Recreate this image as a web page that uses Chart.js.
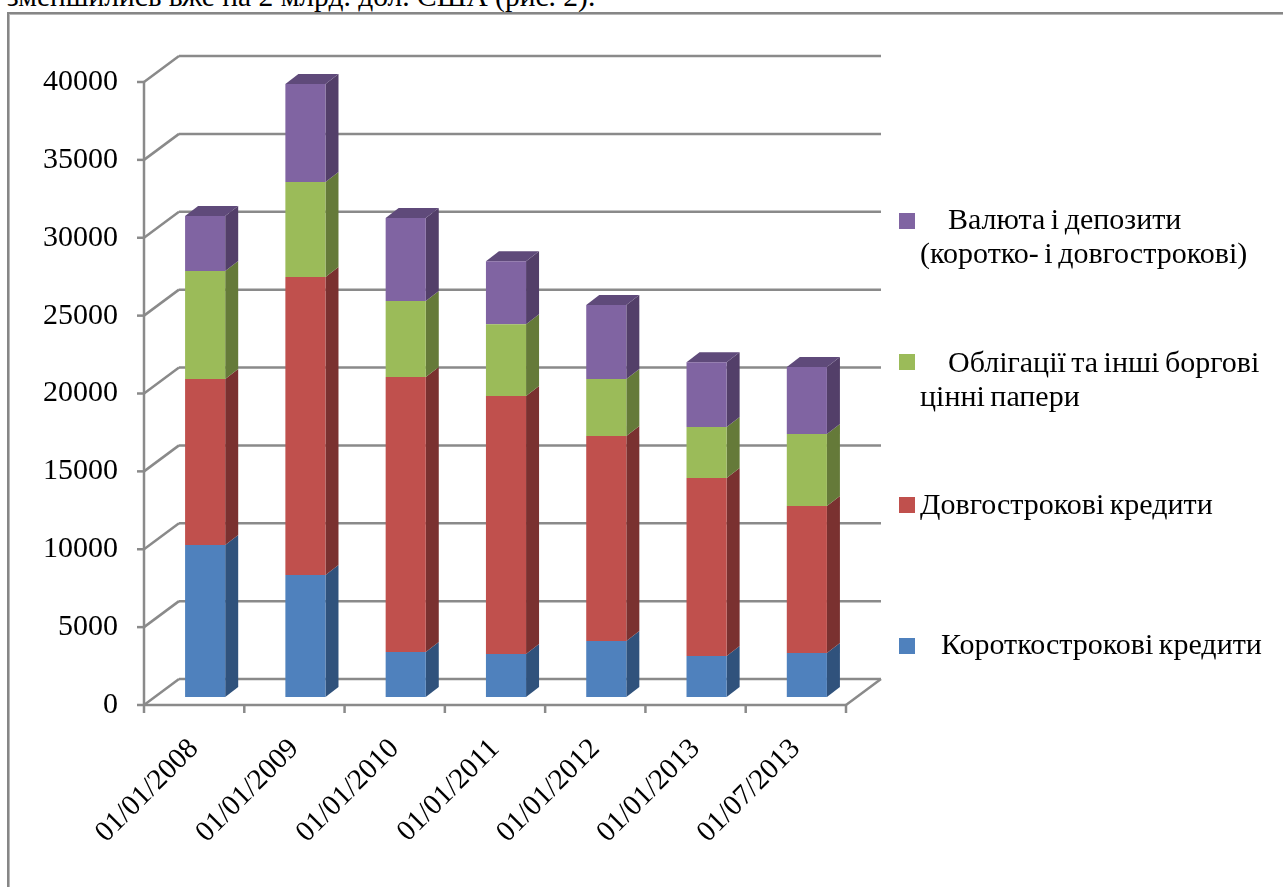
<!DOCTYPE html>
<html lang="uk">
<head>
<meta charset="utf-8">
<title>Зовнішній борг</title>
<script src="https://cdn.jsdelivr.net/npm/chart.js@4/dist/chart.umd.min.js"></script>
<style>
    html, body { margin: 0; padding: 0; background: #fff; overflow: hidden; }
    #caption {
        position: absolute; left: 7px; top: -19px;
        font: 29.5px/30px "Liberation Serif", serif; color: #000; white-space: nowrap;
    }
    #frame {
        position: absolute; left: 7px; top: 12px; width: 1400px; height: 1000px;
        border: 2px solid #868686;
        box-shadow: inset 1px 1px 0 #b8b8b8;
    }
    #debtChart { position: absolute; left: 0; top: 0; }
</style>
</head>
<body>
<div id="caption">зменшились вже на 2 млрд. дол. США (рис. 2).</div>
<div id="frame"></div>
<canvas id="debtChart" width="1283" height="887"></canvas>
<script>
const categories = ['01/01/2008', '01/01/2009', '01/01/2010', '01/01/2011', '01/01/2012', '01/01/2013', '01/07/2013'];

const shortLoans = [9760, 7830, 2890, 2760, 3600, 2630, 2820];
const longLoans = [10660, 19130, 17660, 16560, 13160, 11430, 9440];
const bonds = [6930, 6100, 4880, 4620, 3660, 3270, 4620];
const deposits = [3530, 6290, 5330, 4040, 4750, 4170, 4300];

const shortLabel = ['Короткострокові кредити'];
const longLabel = ['Довгострокові кредити'];
const bondsLabel = ['Облігації та інші боргові', 'цінні папери'];
const depositsLabel = ['Валюта і депозити', '(коротко- і довгострокові)'];

const fontFamily = '"Liberation Serif", serif';
const gridColor = '#8a8a8a';

// depth of the box: the walls sit around the bars, front plane lower-left, back plane upper-right
const front = { dx: -11, dy: 8 };
const back = { dx: 24, dy: -18 };
const barDepth = { dx: 13, dy: -10 };

function poly(ctx, pts, fill) {
    ctx.fillStyle = fill;
    ctx.beginPath();
    pts.forEach((p, i) => i ? ctx.lineTo(p[0], p[1]) : ctx.moveTo(p[0], p[1]));
    ctx.closePath();
    ctx.fill();
}

function line(ctx, x1, y1, x2, y2) {
    ctx.beginPath();
    ctx.moveTo(x1, y1);
    ctx.lineTo(x2, y2);
    ctx.stroke();
}

const box3d = {
    id: 'box3d',
    beforeDatasetsDraw(chart) {
        const { ctx, chartArea, scales } = chart;
        const { x: xs, y: ys } = scales;
        const fl = chartArea.left + front.dx, fr = chartArea.right + front.dx;
        const bl = chartArea.left + back.dx, br = chartArea.right + back.dx;
        ctx.save();
        ctx.strokeStyle = gridColor;
        ctx.lineWidth = 2.5;

        // walls and y ticks
        ys.ticks.forEach(t => {
            const y = ys.getPixelForValue(t.value);
            line(ctx, fl - 7, y + front.dy, fl, y + front.dy);
            line(ctx, fl, y + front.dy, bl, y + back.dy);
            line(ctx, bl, y + back.dy, br, y + back.dy);
        });
        const y0 = ys.getPixelForValue(0), yTop = ys.getPixelForValue(40000);
        line(ctx, fl, yTop + front.dy, fl, y0 + front.dy);
        line(ctx, fl, y0 + front.dy, fr, y0 + front.dy);
        line(ctx, fr, y0 + front.dy, br, y0 + back.dy);

        // x ticks sit between the categories
        const step = xs.getPixelForValue(1) - xs.getPixelForValue(0);
        for (let i = 0; i <= categories.length; i++) {
            const x = fl + i * step;
            line(ctx, x, y0 + front.dy, x, y0 + front.dy + 8);
        }
        ctx.restore();

        // side and top faces of the stacked bars
        ctx.save();
        chart.data.datasets.forEach((ds, di) => {
            const bars = chart.getDatasetMeta(di).data;
            bars.forEach(bar => {
                const r = bar.x + bar.width / 2, l = bar.x - bar.width / 2;
                poly(ctx, [
                    [r, bar.base],
                    [r + barDepth.dx, bar.base + barDepth.dy],
                    [r + barDepth.dx, bar.y + barDepth.dy],
                    [r, bar.y]
                ], ds.sideColor);
                if (di === chart.data.datasets.length - 1) {
                    poly(ctx, [
                        [l, bar.y],
                        [l + barDepth.dx, bar.y + barDepth.dy],
                        [r + barDepth.dx, bar.y + barDepth.dy],
                        [r, bar.y]
                    ], ds.topColor);
                }
            });
        });
        ctx.restore();
    }
};

// the legend runs down the right side, first lines indented after the swatch
const legendRows = [
    { ds: 3, swatchY: 213, lines: [[948, 229], [920, 263]] },
    { ds: 2, swatchY: 354, lines: [[948, 372], [920, 406]] },
    { ds: 1, swatchY: 497, lines: [[920, 514]] },
    { ds: 0, swatchY: 638, lines: [[941, 654]] }
];

const sideLegend = {
    id: 'sideLegend',
    afterDraw(chart) {
        const { ctx } = chart;
        ctx.save();
        ctx.font = '30px ' + fontFamily;
        ctx.wordSpacing = '-2px';
        ctx.textBaseline = 'alphabetic';
        legendRows.forEach(row => {
            const ds = chart.data.datasets[row.ds];
            ctx.fillStyle = ds.backgroundColor;
            ctx.fillRect(899, row.swatchY, 16, 16);
            ctx.fillStyle = '#000';
            row.lines.forEach((pos, i) => ctx.fillText(ds.label[i], pos[0], pos[1]));
        });
        ctx.restore();
    }
};

new Chart(document.getElementById('debtChart'), {
    type: 'bar',
    data: {
        labels: categories,
        datasets: [
            { label: shortLabel, data: shortLoans, backgroundColor: '#4f81bd', sideColor: '#30527c' },
            { label: longLabel, data: longLoans, backgroundColor: '#c0504d', sideColor: '#7a3130' },
            { label: bondsLabel, data: bonds, backgroundColor: '#9bbb59', sideColor: '#657a39' },
            { label: depositsLabel, data: deposits, backgroundColor: '#8064a2', sideColor: '#533f69', topColor: '#5f4a7a' }
        ]
    },
    options: {
        responsive: false,
        animation: false,
        layout: { padding: { top: 74, right: 426, left: 0, bottom: 0 } },
        plugins: { legend: { display: false }, tooltip: { enabled: false } },
        datasets: { bar: { categoryPercentage: 1, barPercentage: 0.4 } },
        scales: {
            x: {
                stacked: true,
                grid: { display: false, drawTicks: false },
                border: { display: false },
                afterFit: s => { s.height = 190; },
                ticks: {
                    color: '#000',
                    font: { family: fontFamily, size: 29 },
                    maxRotation: 45,
                    minRotation: 45,
                    padding: 35,
                    labelOffset: -11
                }
            },
            y: {
                stacked: true,
                min: 0,
                max: 40000,
                grid: { display: false, drawTicks: false },
                border: { display: false },
                afterFit: s => { s.width = 155; },
                ticks: {
                    color: '#000',
                    font: { family: fontFamily, size: 30 },
                    stepSize: 5000,
                    padding: 37,
                    labelOffset: 8,
                    callback: v => String(v)
                }
            }
        }
    },
    plugins: [box3d, sideLegend]
});
</script>
</body>
</html>
